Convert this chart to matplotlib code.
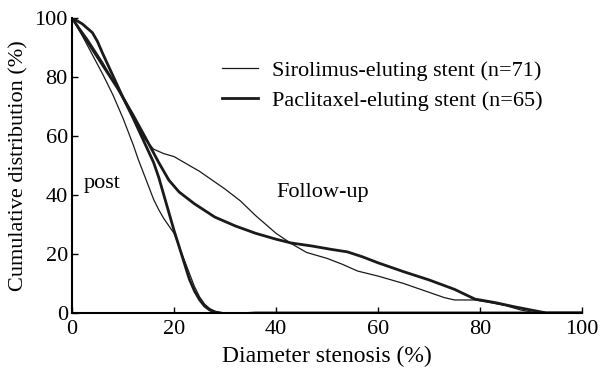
import numpy as np
import matplotlib.pyplot as plt

plt.rcParams['font.family'] = ['Liberation Serif', 'DejaVu Serif']

# Sirolimus (thin lines)
sir_post_x = [0, 2, 4, 6, 8, 10, 11, 12, 13, 14, 15, 16, 17, 18, 19, 20, 21, 22, 23,
              24, 25, 26, 27, 28, 29, 30, 35, 100]
sir_post_y = [100, 94, 87.5, 81, 74, 66, 61.5, 57, 52, 47.5, 43, 38.5, 35, 32, 29.5, 27,
              22.5, 18, 13.5, 9, 5.5, 3, 1.5, 0.6, 0.2, 0, 0, 0]
sir_fu_x = [0, 3, 6, 9, 12, 14, 16, 18, 20, 22, 25, 30, 33, 36, 40, 43, 46, 50, 53,
            56, 60, 65, 70, 73, 75, 79, 82, 85, 88, 91, 100]
sir_fu_y = [100, 93, 85, 76, 66, 59.5, 55.5, 54, 53, 51, 48, 42, 38, 33, 27, 23.5, 20.5,
            18.5, 16.5, 14.2, 12.5, 10, 7, 5.2, 4.4, 4.4, 3.5, 2.5, 1, 0, 0]

# Paclitaxel (thick lines)
pac_post_x = [0, 2, 4, 5, 6, 8, 10, 12, 14, 16, 17, 18, 19, 20, 21, 22, 23, 24, 25,
              26, 27, 28, 30, 32, 34, 36, 100]
pac_post_y = [100, 98, 95, 92, 88, 80.5, 73, 66, 58.5, 51, 46, 40, 34, 28, 22.5, 17, 11.5,
              7.5, 4.5, 2.3, 1, 0.3, -0.3, -0.5, -0.2, 0, 0]
pac_fu_x = [0, 3, 6, 9, 12, 15, 17, 19, 21, 24, 28, 32, 36, 40, 43, 47, 51, 54, 57, 60,
            65, 70, 75, 79, 83, 87, 90, 93, 100]
pac_fu_y = [100, 92, 84, 76, 67, 57.5, 51, 45, 41, 37, 32.5, 29.5, 27, 25, 23.7, 22.7,
            21.5, 20.7, 19, 17, 14, 11.2, 8, 4.7, 3.5, 2, 1, 0, 0]

fig = plt.figure(figsize=(6, 3.73), dpi=100)
ax = fig.add_axes([0.12, 0.161, 0.85, 0.791])

ax.plot(sir_post_x, sir_post_y, color='#1a1a1a', lw=0.9)
ax.plot(sir_fu_x, sir_fu_y, color='#1a1a1a', lw=0.9, label='Sirolimus-eluting stent (n=71)')
ax.plot(pac_post_x, pac_post_y, color='#1a1a1a', lw=2.0)
ax.plot(pac_fu_x, pac_fu_y, color='#1a1a1a', lw=2.0, label='Paclitaxel-eluting stent (n=65)')

ax.set_xlim(0, 100)
ax.set_ylim(0, 100)
ax.set_xticks([0, 20, 40, 60, 80, 100])
ax.set_yticks([0, 20, 40, 60, 80, 100])
ax.spines['top'].set_visible(False)
ax.spines['right'].set_visible(False)
ax.spines['left'].set_linewidth(1.5)
ax.spines['bottom'].set_linewidth(1.5)
ax.tick_params(direction='in', length=4, width=1, labelsize=16)
ax.tick_params(axis='x', pad=5)
ax.tick_params(axis='y', pad=3)
for sp in ['left', 'bottom']:
    ax.spines[sp].set_bounds(0, 100)

ax.set_xlabel('Diameter stenosis (%)', fontsize=17, labelpad=5)
ax.set_ylabel('Cumulative distribution (%)', fontsize=16, labelpad=4)

ax.text(6, 44, 'post', fontsize=16, ha='center', va='center')
ax.text(40, 40.7, 'Follow-up', fontsize=16, ha='left', va='center')

ax.legend(loc='upper left', bbox_to_anchor=(0.255, 0.925), frameon=False, fontsize=16,
          handlelength=1.6, handletextpad=0.65, labelspacing=0.45)

fig.savefig('out.png', dpi=100)
